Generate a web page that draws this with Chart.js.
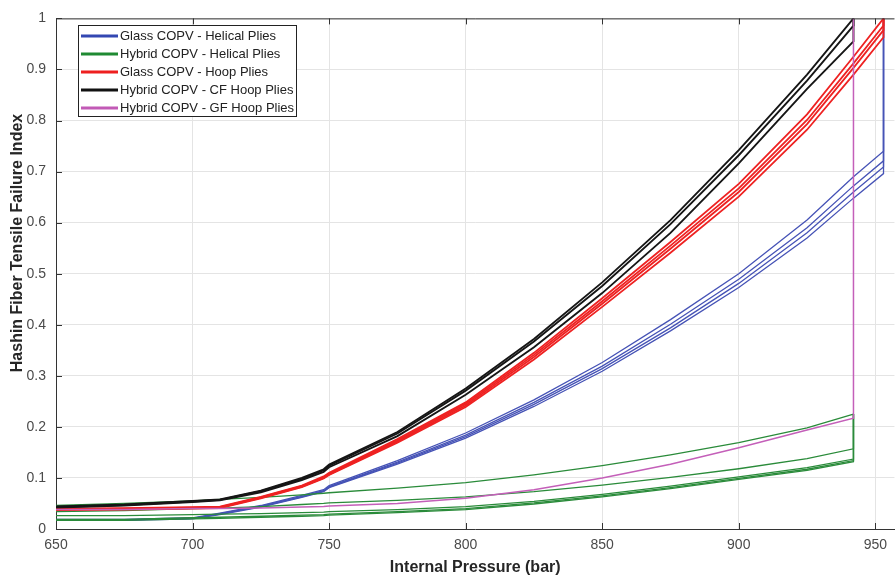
<!DOCTYPE html>
<html>
<head>
<meta charset="utf-8">
<script src="https://cdn.jsdelivr.net/npm/chart.js@4.4.1/dist/chart.umd.min.js"></script>
<style>
  html, body { margin: 0; padding: 0; background: #fff; }
  #wrap { width: 895px; height: 577px; }
</style>
</head>
<body>
<div id="wrap"><canvas id="chart" width="895" height="577"></canvas></div>
<script>
// pressure steps (bar); the last repeated value is the failure jump
const pressureHybrid = [650, 675, 700, 710, 725, 740, 748, 750, 775, 800, 825, 850, 875, 900, 925, 942, 942]
const pressureGlass = [650, 675, 700, 710, 725, 740, 748, 750, 775, 800, 825, 850, 875, 900, 925, 942, 953, 953]

const xTicks = [650, 700, 750, 800, 850, 900, 950]
const yTicks = [0, 0.1, 0.2, 0.3, 0.4, 0.5, 0.6, 0.7, 0.8, 0.9, 1]

// Glass COPV - helical plies (on pressureGlass)
const glassHelical = [
  [0.019, 0.019, 0.022, 0.031, 0.046, 0.066, 0.077, 0.085, 0.134, 0.188, 0.253, 0.326, 0.410, 0.500, 0.605, 0.690, 0.740, 1.0],
  [0.018, 0.018, 0.021, 0.030, 0.045, 0.064, 0.075, 0.083, 0.131, 0.184, 0.248, 0.319, 0.401, 0.489, 0.590, 0.672, 0.721, 1.0],
  [0.018, 0.018, 0.021, 0.029, 0.044, 0.063, 0.074, 0.082, 0.129, 0.181, 0.244, 0.314, 0.394, 0.481, 0.580, 0.660, 0.709, 1.0],
  [0.017, 0.017, 0.020, 0.028, 0.043, 0.062, 0.073, 0.081, 0.127, 0.178, 0.240, 0.309, 0.388, 0.473, 0.570, 0.648, 0.696, 1.0]
]

// Hybrid COPV - helical plies (on pressureHybrid)
const hybridHelical = [
  [0.046, 0.050, 0.055, 0.058, 0.062, 0.067, 0.070, 0.071, 0.080, 0.091, 0.106, 0.124, 0.145, 0.169, 0.198, 0.225, 0.225],
  [0.034, 0.036, 0.040, 0.041, 0.044, 0.048, 0.050, 0.051, 0.056, 0.063, 0.073, 0.086, 0.101, 0.118, 0.138, 0.157, 0.225],
  [0.026, 0.026, 0.028, 0.029, 0.030, 0.032, 0.033, 0.034, 0.038, 0.044, 0.054, 0.068, 0.084, 0.102, 0.120, 0.137, 0.225],
  [0.019, 0.019, 0.022, 0.023, 0.025, 0.027, 0.028, 0.029, 0.034, 0.040, 0.051, 0.065, 0.081, 0.099, 0.117, 0.134, 0.225],
  [0.017, 0.017, 0.020, 0.021, 0.023, 0.025, 0.026, 0.027, 0.032, 0.038, 0.049, 0.063, 0.079, 0.097, 0.115, 0.132, 0.225]
]

// Glass COPV - hoop plies (on pressureGlass)
const glassHoop = [
  [0.040, 0.041, 0.043, 0.044, 0.063, 0.085, 0.103, 0.110, 0.176, 0.248, 0.345, 0.452, 0.562, 0.676, 0.812, 0.925, 1.000, 1.0],
  [0.039, 0.040, 0.042, 0.043, 0.062, 0.084, 0.101, 0.108, 0.173, 0.245, 0.341, 0.446, 0.555, 0.667, 0.801, 0.912, 0.986, 1.0],
  [0.038, 0.039, 0.041, 0.042, 0.061, 0.083, 0.100, 0.107, 0.171, 0.242, 0.337, 0.441, 0.549, 0.660, 0.793, 0.903, 0.977, 1.0],
  [0.037, 0.038, 0.040, 0.041, 0.060, 0.082, 0.099, 0.106, 0.169, 0.239, 0.332, 0.435, 0.541, 0.651, 0.782, 0.890, 0.963, 1.0]
]

// Hybrid COPV - CF hoop plies (on pressureHybrid)
const hybridCfHoop = [
  [0.044, 0.048, 0.055, 0.058, 0.075, 0.100, 0.117, 0.126, 0.190, 0.275, 0.372, 0.483, 0.605, 0.742, 0.890, 1.000, 1.0],
  [0.043, 0.047, 0.054, 0.057, 0.074, 0.098, 0.115, 0.124, 0.187, 0.271, 0.367, 0.476, 0.597, 0.732, 0.878, 0.986, 1.0],
  [0.042, 0.046, 0.053, 0.056, 0.072, 0.096, 0.112, 0.121, 0.182, 0.263, 0.356, 0.462, 0.580, 0.716, 0.862, 0.955, 1.0]
]

// Hybrid COPV - GF hoop plies (on pressureHybrid)
const hybridGfHoop = [
  [0.038, 0.038, 0.040, 0.040, 0.041, 0.043, 0.044, 0.045, 0.050, 0.060, 0.077, 0.100, 0.127, 0.159, 0.194, 0.217, 1.0]
]

const legendLabels = [
  'Glass COPV - Helical Plies',
  'Hybrid COPV - Helical Plies',
  'Glass COPV - Hoop Plies',
  'Hybrid COPV - CF Hoop Plies',
  'Hybrid COPV - GF Hoop Plies'
]
const legendColours = ['#3347b2', '#1f8a32', '#ee1f1f', '#111111', '#c25ab6']
const lineColours = ['#4653b6', '#2a8b3a', '#ee2222', '#161616', '#c45fb9']
const lineWidths = [1.3, 1.3, 1.8, 1.9, 1.5]

const groups = [
  { lines: glassHelical, x: pressureGlass },
  { lines: hybridHelical, x: pressureHybrid },
  { lines: glassHoop, x: pressureGlass },
  { lines: hybridCfHoop, x: pressureHybrid },
  { lines: hybridGfHoop, x: pressureHybrid }
]

const datasets = []
groups.forEach((g, gi) => {
  g.lines.forEach(values => {
    datasets.push({
      label: legendLabels[gi],
      data: values.map((v, i) => ({ x: g.x[i], y: v })),
      borderColor: lineColours[gi],
      borderWidth: lineWidths[gi],
      pointRadius: 0,
      tension: 0,
      fill: false
    })
  })
})
// later groups drawn on top, like the original plot
datasets.forEach((d, i) => { d.order = datasets.length - i })

const fontFamily = 'Arial, "Liberation Sans", Helvetica, sans-serif'

const frame = {
  id: 'frame',
  afterDraw(chart) {
    const { ctx, chartArea: a, scales } = chart
    ctx.save()
    ctx.strokeStyle = '#333'
    ctx.lineWidth = 1
    ctx.beginPath()
    ctx.moveTo(a.left, a.top + 0.5)
    ctx.lineTo(a.right, a.top + 0.5)
    xTicks.forEach(v => {
      const px = Math.round(scales.x.getPixelForValue(v)) + 0.5
      ctx.moveTo(px, a.bottom)
      ctx.lineTo(px, a.bottom - 6)
      ctx.moveTo(px, a.top)
      ctx.lineTo(px, a.top + 6)
    })
    yTicks.forEach(v => {
      const py = Math.round(scales.y.getPixelForValue(v)) + 0.5
      ctx.moveTo(a.left, py)
      ctx.lineTo(a.left + 6, py)
    })
    ctx.stroke()

    // legend box
    const lx = 78, ly = 25, lw = 218, lh = 91
    ctx.fillStyle = '#fff'
    ctx.fillRect(lx, ly, lw, lh)
    ctx.strokeStyle = '#222'
    ctx.strokeRect(lx + 0.5, ly + 0.5, lw, lh)
    ctx.font = '13px ' + fontFamily
    ctx.textBaseline = 'middle'
    ctx.textAlign = 'left'
    legendLabels.forEach((label, i) => {
      const y = 36 + i * 18
      ctx.strokeStyle = legendColours[i]
      ctx.lineWidth = 3
      ctx.beginPath()
      ctx.moveTo(81, y)
      ctx.lineTo(118, y)
      ctx.stroke()
      ctx.fillStyle = '#222'
      ctx.fillText(label, 120, y + 0.5)
    })

    // y axis title
    ctx.translate(18, 243)
    ctx.rotate(-Math.PI / 2)
    ctx.font = 'bold 16px ' + fontFamily
    ctx.fillStyle = '#262626'
    ctx.textAlign = 'center'
    ctx.fillText('Hashin Fiber Tensile Failure Index', 0, 0)
    ctx.restore()
  }
}

new Chart(document.getElementById('chart'), {
  type: 'line',
  data: { datasets },
  options: {
    responsive: false,
    animation: false,
    devicePixelRatio: 1,
    layout: { padding: { top: 13, right: 0, left: 0, bottom: 0 } },
    plugins: {
      legend: { display: false },
      tooltip: { enabled: false }
    },
    scales: {
      x: {
        type: 'linear',
        min: 650,
        max: 957,
        afterBuildTicks: s => { s.ticks = xTicks.map(v => ({ value: v })) },
        afterFit: s => { s.height = 48 },
        grid: { color: '#e4e4e4', drawTicks: false },
        border: { color: '#333', width: 1 },
        ticks: {
          padding: 8,
          maxRotation: 0,
          color: '#4a4a4a',
          font: { family: fontFamily, size: 14 }
        },
        title: {
          display: true,
          text: 'Internal Pressure (bar)',
          color: '#262626',
          padding: { top: 2, bottom: 0 },
          font: { family: fontFamily, size: 16, weight: 'bold' }
        }
      },
      y: {
        min: 0,
        max: 1,
        afterBuildTicks: s => { s.ticks = yTicks.map(v => ({ value: v })) },
        afterFit: s => { s.width = 56 },
        grid: { color: '#e4e4e4', drawTicks: false },
        border: { color: '#333', width: 1 },
        ticks: {
          padding: 10,
          color: '#4a4a4a',
          font: { family: fontFamily, size: 14 },
          callback: v => String(v)
        }
      }
    }
  },
  plugins: [frame]
})
</script>
</body>
</html>
